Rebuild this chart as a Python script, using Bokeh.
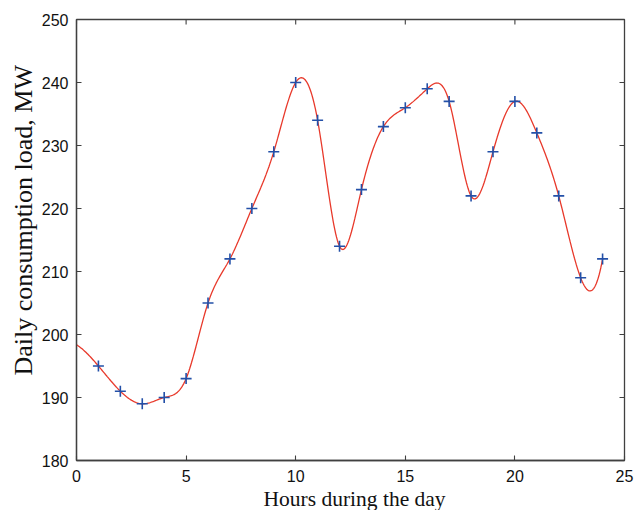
import numpy as np
from bokeh.plotting import figure
from bokeh.models import Range1d, FixedTicker, Title
from bokeh.embed import file_html
from bokeh.resources import INLINE

# ---- data ----
hours = [1, 2, 3, 4, 5, 6, 7, 8, 9, 10, 11, 12,
         13, 14, 15, 16, 17, 18, 19, 20, 21, 22, 23, 24]
load_mw = [195, 191, 189, 190, 193, 205, 212, 220, 229, 240, 234, 214,
           223, 233, 236, 239, 237, 222, 229, 237, 232, 222, 209, 212]
x_ticks = [0, 5, 10, 15, 20, 25]
y_ticks = [180, 190, 200, 210, 220, 230, 240, 250]
x_lim = (0, 25)
y_lim = (180, 250)


def spline_not_a_knot(x, y, xs):
    x = np.asarray(x, float)
    y = np.asarray(y, float)
    n = len(x)
    h = np.diff(x)
    A = np.zeros((n, n))
    r = np.zeros(n)
    A[0, 0] = h[1]
    A[0, 1] = -(h[0] + h[1])
    A[0, 2] = h[0]
    for i in range(1, n - 1):
        A[i, i - 1] = h[i - 1]
        A[i, i] = 2 * (h[i - 1] + h[i])
        A[i, i + 1] = h[i]
        r[i] = 6 * ((y[i + 1] - y[i]) / h[i] - (y[i] - y[i - 1]) / h[i - 1])
    A[n - 1, n - 3] = h[n - 2]
    A[n - 1, n - 2] = -(h[n - 3] + h[n - 2])
    A[n - 1, n - 1] = h[n - 3]
    M = np.linalg.solve(A, r)
    xs = np.asarray(xs, float)
    idx = np.clip(np.searchsorted(x, xs) - 1, 0, n - 2)
    t = xs - x[idx]
    hi = h[idx]
    b = (y[idx + 1] - y[idx]) / hi - hi * (2 * M[idx] + M[idx + 1]) / 6
    return y[idx] + b * t + M[idx] / 2 * t ** 2 + (M[idx + 1] - M[idx]) / (6 * hi) * t ** 3


xs = np.linspace(0, 24, 600)
ys = spline_not_a_knot(hours, load_mw, xs)

axis_color = "#404040"

p = figure(width=635, height=510, output_backend="svg", toolbar_location=None,
           x_range=Range1d(*x_lim), y_range=Range1d(*y_lim),
           min_border_left=76, min_border_right=11, min_border_top=19, min_border_bottom=50,
           background_fill_color="white", border_fill_color="white")
p.outline_line_color = axis_color
p.outline_line_width = 1.3
p.xgrid.visible = False
p.ygrid.visible = False

p.line(xs, ys, line_color="#e8392b", line_width=1.3)
p.scatter(hours, load_mw, marker="cross", size=11, line_color="#2350a8", line_width=1.6)

# mirror ticks on the top and right edges (clipped to the frame, so only the inner half shows)
p.scatter([x_lim[1]] * len(y_ticks), y_ticks, marker="dash", size=10,
          line_color=axis_color, line_width=1.1)
p.scatter(x_ticks, [y_lim[1]] * len(x_ticks), marker="dash", size=10, angle=np.pi / 2,
          line_color=axis_color, line_width=1.1)

for ax in (p.xaxis[0], p.yaxis[0]):
    ax.axis_line_color = axis_color
    ax.axis_line_width = 1.3
    ax.major_tick_line_color = axis_color
    ax.major_tick_line_width = 1.1
    ax.major_tick_in = 5
    ax.major_tick_out = 0
    ax.minor_tick_line_color = None
    ax.major_label_text_font = "Liberation Sans"
    ax.major_label_text_font_size = "16px"
    ax.major_label_text_color = "#111111"

p.xaxis[0].ticker = FixedTicker(ticks=x_ticks)
p.yaxis[0].ticker = FixedTicker(ticks=y_ticks)
p.xaxis[0].major_label_standoff = 9
p.yaxis[0].major_label_standoff = 8

p.add_layout(Title(text="Hours during the day", align="left", offset=187, standoff=0,
                   text_font="Liberation Serif", text_font_size="21.5px",
                   text_font_style="normal", text_color="#111111"), "below")
p.add_layout(Title(text="Daily consumption load, MW", align="left", offset=85, standoff=2,
                   text_font="Liberation Serif", text_font_size="26px",
                   text_font_style="normal", text_color="#111111"), "left")

open("out.html", "w").write(file_html(p, INLINE))
